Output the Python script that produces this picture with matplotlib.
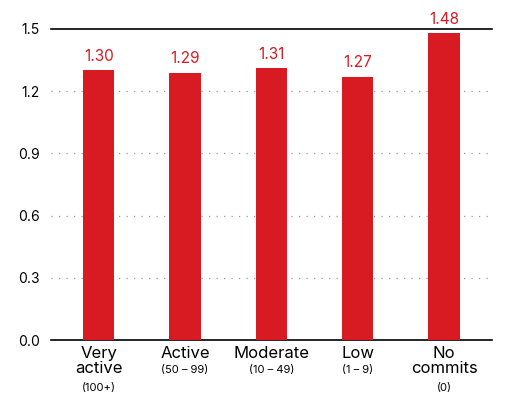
import matplotlib
matplotlib.use("Agg")
import matplotlib.pyplot as plt

categories = ["Very\nactive", "Active", "Moderate", "Low", "No\ncommits"]
subtitles = ["(100+)", "(50 – 99)", "(10 – 49)", "(1 – 9)", "(0)"]
values = [1.30, 1.29, 1.31, 1.27, 1.48]
yticks = [0.0, 0.3, 0.6, 0.9, 1.2, 1.5]

red = "#D81B22"
plt.rcParams['font.family'] = ['Inter', 'DejaVu Sans']
fig = plt.figure(figsize=(5.12, 4.2), dpi=100)
ax = fig.add_axes([0.10, 0.19, 0.86, 0.741])
x = list(range(len(values)))
ax.bar(x, values, width=0.36, color=red, zorder=3)
for xi, v in zip(x, values):
    ax.text(xi, v + 0.03, f"{v:.2f}", ha="center", va="bottom", color=red, fontsize=11)
ax.set_ylim(0, 1.5)
ax.set_xlim(-0.55, 4.55)
ax.set_yticks(yticks)
ax.set_yticklabels([f"{t:.1f}" for t in yticks], fontsize=10)
for t in yticks[1:-1]:
    ax.axhline(t, color="#999999", linestyle=(0, (1, 5)), linewidth=0.9, zorder=1)
ax.axhline(1.5, color="black", linewidth=1.2, zorder=2, clip_on=False)
for s in ["top", "right", "left"]:
    ax.spines[s].set_visible(False)
ax.spines["bottom"].set_linewidth(1.2)
ax.tick_params(axis="y", length=0, pad=8)
ax.tick_params(axis="x", length=0)
ax.set_xticks([])
for xi, c, s in zip(x, categories, subtitles):
    n = c.count("\n") + 1
    ax.text(xi, -0.03, c, ha="center", va="top", fontsize=12, linespacing=1.0,
            transform=ax.get_xaxis_transform() if False else ax.transData)
    ax.text(xi, -0.03 - 0.085 * n - 0.005, s, ha="center", va="top", fontsize=8)
fig.savefig("out.png", dpi=100)
